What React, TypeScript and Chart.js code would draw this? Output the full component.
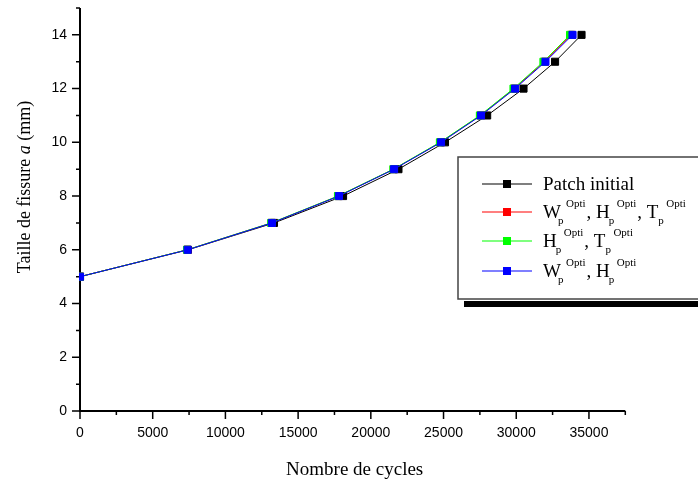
import React, { useEffect, useRef } from 'react';
import { Chart, registerables } from 'chart.js';

Chart.register(...registerables);

// Crack size a (mm)
const crackSize = [5, 6, 7, 8, 9, 10, 11, 12, 13, 14];
// Number of cycles for each configuration
const cyclesPatchInitial = [0, 7420, 13340, 18090, 21900, 25100, 28000, 30500, 32670, 34490];
const cyclesWHT = [0, 7380, 13180, 17770, 21580, 24790, 27540, 29860, 31940, 33790];
const cyclesHT = [0, 7360, 13150, 17740, 21550, 24750, 27500, 29810, 31870, 33700];
const cyclesWH = [0, 7400, 13200, 17810, 21600, 24830, 27580, 29915, 32010, 33870];

const xMin = 0;
const xMax = 37500;
const xTickValues = [0, 5000, 10000, 15000, 20000, 25000, 30000, 35000];
const xMinorStep = 2500;
const yMin = 0;
const yMax = 15;
const yTickValues = [0, 2, 4, 6, 8, 10, 12, 14];
const yMinorStep = 1;

const xTitle = 'Nombre de cycles';
const yTitleParts = [
  { t: 'Taille de fissure ', italic: false },
  { t: 'a', italic: true },
  { t: ' (mm)', italic: false },
];

type Seg = { t: string; k: 'b' | 'sub' | 'sup' };
const legendEntries: { color: string; segs: Seg[] }[] = [
  { color: '#000000', segs: [{ t: 'Patch initial', k: 'b' }] },
  {
    color: '#ff0000',
    segs: [
      { t: 'W', k: 'b' }, { t: 'p', k: 'sub' }, { t: 'Opti', k: 'sup' },
      { t: ', H', k: 'b' }, { t: 'p', k: 'sub' }, { t: 'Opti', k: 'sup' },
      { t: ', T', k: 'b' }, { t: 'p', k: 'sub' }, { t: 'Opti', k: 'sup' },
    ],
  },
  {
    color: '#00ff00',
    segs: [
      { t: 'H', k: 'b' }, { t: 'p', k: 'sub' }, { t: 'Opti', k: 'sup' },
      { t: ', T', k: 'b' }, { t: 'p', k: 'sub' }, { t: 'Opti', k: 'sup' },
    ],
  },
  {
    color: '#0000ff',
    segs: [
      { t: 'W', k: 'b' }, { t: 'p', k: 'sub' }, { t: 'Opti', k: 'sup' },
      { t: ', H', k: 'b' }, { t: 'p', k: 'sub' }, { t: 'Opti', k: 'sup' },
    ],
  },
];

const SERIF = '"Liberation Serif", "Times New Roman", serif';
const SANS = '"Liberation Sans", Arial, sans-serif';

const axesPlugin = {
  id: 'originAxes',
  beforeDatasetsDraw(chart: any) {
    const { ctx, chartArea, scales } = chart;
    const { left, right, top, bottom } = chartArea;
    const x = scales.x;
    const y = scales.y;
    ctx.save();
    ctx.strokeStyle = '#000';
    ctx.lineWidth = 2;
    ctx.beginPath();
    ctx.moveTo(left, top);
    ctx.lineTo(left, bottom + 1);
    ctx.moveTo(left - 1, bottom);
    ctx.lineTo(right, bottom);
    ctx.stroke();
    ctx.lineWidth = 1.5;
    ctx.beginPath();
    for (let v = xMin; v <= xMax + 1e-6; v += xMinorStep) {
      const px = x.getPixelForValue(v);
      const len = xTickValues.includes(v) ? 8 : 4;
      ctx.moveTo(px, bottom);
      ctx.lineTo(px, bottom + len);
    }
    for (let v = yMin; v <= yMax + 1e-6; v += yMinorStep) {
      const py = y.getPixelForValue(v);
      const len = yTickValues.includes(v) ? 8 : 4;
      ctx.moveTo(left, py);
      ctx.lineTo(left - len, py);
    }
    ctx.stroke();
    ctx.restore();
  },
  afterDraw(chart: any) {
    const { ctx, chartArea } = chart;
    const { left, right } = chartArea;
    ctx.save();
    ctx.fillStyle = '#000';
    // X title
    ctx.font = `19px ${SERIF}`;
    ctx.textAlign = 'center';
    ctx.textBaseline = 'alphabetic';
    ctx.fillText(xTitle, (left + right) / 2 + 2, 475);

    // Y title (rotated, with italic a)
    ctx.save();
    ctx.translate(30, 187);
    ctx.rotate(-Math.PI / 2);
    ctx.textAlign = 'left';
    let total = 0;
    const widths = yTitleParts.map((p) => {
      ctx.font = `${p.italic ? 'italic ' : ''}18px ${SERIF}`;
      const w = ctx.measureText(p.t).width;
      total += w;
      return w;
    });
    let cx = -total / 2;
    yTitleParts.forEach((p, i) => {
      ctx.font = `${p.italic ? 'italic ' : ''}18px ${SERIF}`;
      ctx.fillText(p.t, cx, 0);
      cx += widths[i];
    });
    ctx.restore();

    // Legend box with shadow
    const bx = 458;
    const by = 157;
    const bw = 280;
    const bh = 142;
    ctx.fillStyle = '#000';
    ctx.fillRect(bx + 6, by + bh + 2, bw, 6);
    ctx.fillStyle = '#fff';
    ctx.fillRect(bx, by, bw, bh);
    ctx.strokeStyle = '#444';
    ctx.lineWidth = 1.5;
    ctx.strokeRect(bx, by, bw, bh);

    const rowY = [184, 212, 241, 271];
    legendEntries.forEach((e, i) => {
      const ly = rowY[i];
      ctx.strokeStyle = e.color;
      ctx.lineWidth = 1.2;
      ctx.beginPath();
      ctx.moveTo(482, ly);
      ctx.lineTo(532, ly);
      ctx.stroke();
      ctx.fillStyle = e.color;
      ctx.fillRect(503, ly - 4, 8, 8);
      ctx.fillStyle = '#000';
      ctx.textAlign = 'left';
      ctx.textBaseline = 'alphabetic';
      const base = ly + 6;
      let tx = 543;
      let subEnd = tx;
      let prevBase = '';
      e.segs.forEach((s) => {
        if (s.k === 'b') {
          ctx.font = `19px ${SERIF}`;
          ctx.fillText(s.t, tx, base);
          tx += ctx.measureText(s.t).width;
          prevBase = s.t;
        } else if (s.k === 'sub') {
          ctx.font = `11px ${SERIF}`;
          const kern = prevBase.endsWith('W') ? 3 : prevBase.endsWith('T') ? 0 : 1;
          const sx = tx - kern;
          ctx.fillText(s.t, sx, base + 6);
          subEnd = sx + ctx.measureText(s.t).width;
          tx = subEnd;
        } else {
          ctx.font = `11px ${SERIF}`;
          const sx = subEnd + 2.5;
          ctx.fillText(s.t, sx, base - 11);
          tx = sx + ctx.measureText(s.t).width + 1;
        }
      });
    });
    ctx.restore();
  },
};

function mkData(xs: number[]) {
  return xs.map((v, i) => ({ x: v, y: crackSize[i] }));
}

export default function App() {
  const ref = useRef<HTMLCanvasElement>(null);
  useEffect(() => {
    if (!ref.current) return;
    const ds = (label: string, xs: number[], color: string, order: number) => ({
      label,
      data: mkData(xs),
      borderColor: color,
      backgroundColor: color,
      pointBackgroundColor: color,
      pointBorderColor: color,
      pointBorderWidth: 1,
      pointStyle: 'rect',
      pointRadius: 5,
      borderWidth: 1,
      tension: 0,
      fill: false,
      order,
      clip: { left: 1, top: 10, right: 10, bottom: 10 },
    });
    const chart = new Chart(ref.current, {
      type: 'line',
      data: {
        datasets: [
          ds('Patch initial', cyclesPatchInitial, '#000000', 4),
          ds('WHT', cyclesWHT, '#ff0000', 3),
          ds('HT', cyclesHT, '#00ff00', 2),
          ds('WH', cyclesWH, '#0000ff', 1),
        ] as any,
      },
      options: {
        animation: false,
        responsive: false,
        devicePixelRatio: 1,
        layout: { padding: { top: 8, right: 72.7, left: 0, bottom: 0 } },
        plugins: {
          legend: { display: false },
          tooltip: { enabled: false },
          title: { display: false },
        },
        scales: {
          x: {
            type: 'linear',
            min: xMin,
            max: xMax,
            grid: { display: false, drawTicks: false, tickLength: 0 },
            border: { display: false },
            afterBuildTicks: (s: any) => {
              s.ticks = xTickValues.map((v) => ({ value: v }));
            },
            ticks: {
              padding: 14,
              color: '#000',
              font: { family: SANS, size: 14 },
              maxRotation: 0,
              autoSkip: false,
              callback: (v: any) => String(v),
            },
            afterFit: (s: any) => {
              s.height = 75;
              s.paddingLeft = 0;
              s.paddingRight = 0;
            },
          },
          y: {
            type: 'linear',
            min: yMin,
            max: yMax,
            grid: { display: false, drawTicks: false, tickLength: 0 },
            border: { display: false },
            afterBuildTicks: (s: any) => {
              s.ticks = yTickValues.map((v) => ({ value: v }));
            },
            ticks: {
              padding: 13,
              color: '#000',
              font: { family: SANS, size: 14 },
              autoSkip: false,
              callback: (v: any) => String(v),
            },
            afterFit: (s: any) => {
              s.width = 80;
              s.paddingTop = 0;
              s.paddingBottom = 0;
            },
          },
        },
      } as any,
      plugins: [axesPlugin],
    });
    return () => chart.destroy();
  }, []);
  return (
    <div style={{ position: 'fixed', left: 0, top: 0, width: 698, height: 486, background: '#fff' }}>
      <canvas ref={ref} width={698} height={486} />
    </div>
  );
}
